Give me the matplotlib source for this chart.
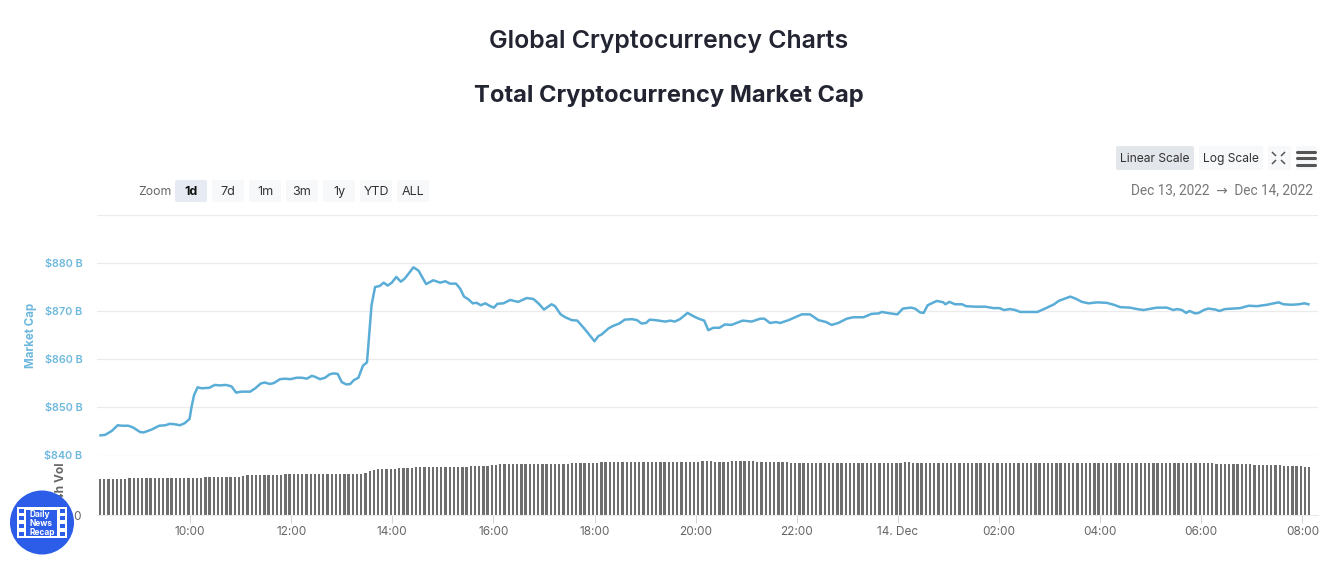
import matplotlib
matplotlib.use("Agg")
import matplotlib.pyplot as plt
from matplotlib.patches import FancyBboxPatch, Circle, Rectangle

plt.rcParams['font.family'] = ['Inter', 'DejaVu Sans']

# ---- data (hours since 13 Dec 00:00) ----
cap_hours = [
 8.23,8.32,8.45,8.57,8.65,8.78,8.88,9.01,9.08,9.24,9.39,9.51,9.60,9.70,9.80,9.89,9.99,10.03,10.08,10.15,
 10.23,10.38,10.49,10.59,10.71,10.82,10.91,11.02,11.19,11.29,11.40,11.48,11.58,11.66,11.78,11.88,11.98,12.11,12.21,12.31,
 12.41,12.47,12.57,12.67,12.76,12.84,12.92,13.00,13.09,13.17,13.24,13.33,13.42,13.50,13.55,13.59,13.66,13.75,13.83,13.91,
 13.99,14.08,14.17,14.25,14.42,14.52,14.67,14.81,14.95,15.05,15.14,15.26,15.34,15.42,15.51,15.59,15.67,15.75,15.84,15.94,
 16.01,16.08,16.20,16.33,16.49,16.66,16.79,16.89,17.00,17.15,17.22,17.33,17.42,17.55,17.66,17.81,18.00,18.08,18.14,18.28,
 18.37,18.49,18.60,18.74,18.84,18.93,19.02,19.09,19.20,19.40,19.50,19.59,19.69,19.84,19.96,20.06,20.17,20.25,20.35,20.47,
 20.58,20.71,20.81,20.93,21.11,21.28,21.36,21.47,21.59,21.67,21.84,21.97,22.10,22.26,22.43,22.58,22.69,22.82,22.99,23.12,
 23.32,23.48,23.62,23.68,23.85,23.99,24.10,24.26,24.34,24.44,24.51,24.59,24.67,24.77,24.90,24.94,25.02,25.13,25.27,25.35,
 25.53,25.73,25.89,26.01,26.10,26.22,26.32,26.42,26.58,26.76,26.91,27.09,27.18,27.28,27.41,27.51,27.64,27.77,27.95,28.13,
 28.27,28.40,28.59,28.73,28.86,29.12,29.32,29.45,29.52,29.62,29.70,29.77,29.88,29.95,30.05,30.14,30.28,30.36,30.47,30.61,
 30.77,30.94,31.10,31.30,31.53,31.63,31.79,31.93,32.04,32.12]
cap_values = [
 844.2,844.3,845.1,846.3,846.2,846.2,845.8,844.9,844.8,845.4,846.2,846.3,846.6,846.5,846.3,846.7,847.6,850.1,852.6,854.2,
 854.0,854.1,854.7,854.6,854.7,854.4,853.1,853.3,853.3,854.0,855.0,855.2,854.9,855.1,855.9,856.0,855.9,856.2,856.2,856.0,
 856.6,856.4,855.9,856.2,856.9,857.1,857.0,855.3,854.8,854.9,855.7,856.2,858.7,859.4,866.1,871.3,875.1,875.3,876.0,875.4,
 876.0,877.2,876.2,876.9,879.2,878.5,875.7,876.5,876.0,876.3,875.8,875.8,874.8,873.1,872.5,871.7,871.8,871.3,871.7,871.1,
 870.8,871.6,871.7,872.4,872.0,872.8,872.6,871.7,870.4,871.5,871.1,869.4,868.8,868.2,868.1,866.3,863.8,864.9,865.2,866.5,
 867.0,867.5,868.3,868.4,868.2,867.5,867.6,868.3,868.2,867.9,868.1,867.9,868.4,869.7,869.0,868.5,868.1,866.1,866.6,866.6,
 867.3,867.2,867.6,868.1,867.9,868.5,868.5,867.6,867.8,867.6,868.2,868.8,869.4,869.4,868.2,867.8,867.2,867.6,868.5,868.8,
 868.8,869.5,869.6,869.9,869.6,869.4,870.6,870.8,870.6,869.8,869.7,871.3,871.7,872.2,871.9,871.5,872.0,871.5,871.5,871.1,
 871.0,871.0,870.7,870.7,870.3,870.5,870.3,869.9,869.9,869.9,870.6,871.5,872.2,872.6,873.1,872.7,872.0,871.7,871.9,871.8,
 871.4,870.9,870.8,870.5,870.3,870.8,870.8,870.3,870.5,870.3,869.7,870.1,869.6,869.7,870.3,870.6,870.4,870.1,870.5,870.6,
 870.7,871.2,871.1,871.4,871.9,871.5,871.4,871.5,871.7,871.5]

# one row per hour, twelve 5-minute bars, first bar at about 08:13
vol_values = [
 36,36,36,36,36,36,36.5,37,37,37,37,37,
 37,37,37,37,37,37,37,37,37,37,37,37,
 37,38,38,38,38,38,38,38,38,38.5,39,40,
 40,40,40,40,40,40,40,40.5,41,41,41,41,
 41,41,41,41,41,41,41,41,41,41,41,41,
 41,41,41.5,42,44,45,46,46.5,46.5,46.5,46.5,47,
 47,47.5,47.5,48,48,48,48,48,48,48,48,48,
 48.5,48.5,48.5,48.5,49,49,49,49,49,50,50,51,
 51,51,51,51,51,51,51,51,51,51,51,51,
 51,51,51,51,52,52,52,52,52,52,52,53,
 53,53,53,53,53,53,53,53,53,53,53,53,
 53,53,53,53,53,53,53,53,53,53.5,53.5,54,
 54,54,53.5,53,53,53.5,54,54.5,54.5,54.5,54,54,
 53.5,53,53,53,53,53,53,53,52.5,52.5,52.5,52.5,
 52.5,52.5,52.5,52.5,52.5,52.5,52.5,52.5,52.5,52.5,52.5,52.5,
 52.5,52.5,52.5,52.5,52.5,52.5,52.5,52.5,52.5,52.5,52.5,53,
 53,52.5,52.5,52.5,52.5,52.5,52.5,52.5,52.5,52.5,52.5,52.5,
 52,52,52,52,52,52,52,52,52,52,52,52,
 52,52,52,52,52,52,52,52,52,52,52,52,
 52,52,52,52,52,52,52,52,52,52,52,52,
 52,52,52,52,52,52,52,52,52,52,52,52,
 52,52,52,52,52,52,52,52,52,52,52,52,
 52,51,51,51,51,51,51,51,51,51,50.5,50.5,
 50.5,50,50,50,50,49.5,49,49,49,49,48.5,48.5]
vol_start_hour = 8.22
vol_step_hours = 5 / 60

xtick_hours = [10,12,14,16,18,20,22,24,26,28,30,32]
xtick_labels = ['10:00','12:00','14:00','16:00','18:00','20:00','22:00','14. Dec','02:00','04:00','06:00','08:00']
ytick_values = [840,850,860,870,880,890]
ytick_labels = ['$840 B','$850 B','$860 B','$870 B','$880 B','']
zoom_buttons = ['1d','7d','1m','3m','1y','YTD','ALL']

W, H = 1342, 564
fig = plt.figure(figsize=(W/100, H/100), dpi=100, facecolor='white')
def box(l, t, r, b):
    return [l/W, (H-b)/H, (r-l)/W, (b-t)/H]

XMIN, XMAX = 8.16, 32.31
BLUE = '#5aadd6'
LABEL_BLUE = '#6db8de'
GRID = '#ebebeb'

# ---- price panel ----
ax = fig.add_axes(box(97, 214.5, 1318, 455.5))
ax.plot(cap_hours, cap_values, color=BLUE, lw=1.8, solid_joinstyle='round', zorder=3, clip_on=False)
ax.set_xlim(XMIN, XMAX); ax.set_ylim(840, 890.2)
ax.set_yticks(ytick_values, ytick_labels, color=LABEL_BLUE, fontsize=7.8, fontweight=600)
ax.tick_params(axis='y', length=0, pad=10.5)
ax.set_xticks([])
ax.grid(axis='y', color=GRID, lw=0.9)
ax.spines[:].set_visible(False)
ax.patch.set_alpha(0)

# ---- volume panel ----
vx = fig.add_axes(box(97, 455.5, 1318, 515))
vol_hours = [vol_start_hour + i * vol_step_hours for i in range(len(vol_values))]
vx.bar(vol_hours, vol_values, width=0.046, color='#6e6e6e', linewidth=0)
vx.set_xlim(XMIN, XMAX); vx.set_ylim(0, 59.5)
vx.set_yticks([0], ['0'], color='#666666', fontsize=8.5)
vx.tick_params(axis='y', length=0, pad=12)
vx.set_xticks(xtick_hours, xtick_labels, color='#666666', fontsize=8.5)
vx.tick_params(axis='x', length=5.8, width=0.7, color='#d5d5d5', pad=2)
for s in ['top', 'left', 'right']:
    vx.spines[s].set_visible(False)
vx.spines['bottom'].set_color(GRID)
vx.patch.set_alpha(0)

# ---- overlay in pixel coordinates: titles, buttons, logo ----
ov = fig.add_axes([0, 0, 1, 1], zorder=5)
ov.set_xlim(0, W); ov.set_ylim(H, 0); ov.axis('off'); ov.patch.set_alpha(0)
DARK = '#222531'
ov.text(668.5, 41.5, 'Global Cryptocurrency Charts', ha='center', va='center', fontsize=17.9, fontweight=600, color=DARK)
ov.text(668.5, 96, 'Total Cryptocurrency Market Cap', ha='center', va='center', fontsize=17.1, fontweight=700, color=DARK)

ov.text(31, 335, 'Market Cap', rotation=90, ha='center', va='center', fontsize=8.3, fontweight=700, color=LABEL_BLUE)
ov.text(60.5, 463, '24h Vol', rotation=90, ha='center', va='top', fontsize=8.6, fontweight=700, color='#666666')

def button(l, t, r, b, txt, fc, color='#333333', weight=400, size=9):
    ov.add_patch(FancyBboxPatch((l+2, t+2), r-l-4, b-t-4, boxstyle='round,pad=2,rounding_size=2', fc=fc, ec='none'))
    if txt:
        ov.text((l+r)/2, (t+b)/2 + 1, txt, ha='center', va='center', fontsize=size, color=color, fontweight=weight)

ov.text(155, 192, 'Zoom', ha='center', va='center', fontsize=8.8, color='#666666')
for i, lab in enumerate(zoom_buttons):
    l = 175 + i * 37
    active = i == 0
    button(l, 180, l + 32, 202, lab, '#e6eaf3' if active else '#f7f8fa',
           color='#111111' if active else '#333333', weight=700 if active else 400)

button(1116, 146, 1194, 170, 'Linear Scale', '#e3e6ea', size=8.7)
button(1199, 146, 1263, 170, 'Log Scale', '#f7f8fa', size=8.7)
button(1268, 146, 1291, 170, '', '#f7f8fa')
button(1296, 146, 1317, 170, '', '#f7f8fa')
for (x0, y0, dx, dy) in [(1272,152,1,1),(1285,152,-1,1),(1272,164,1,-1),(1285,164,-1,-1)]:
    ov.plot([x0, x0+4*dx], [y0, y0+4*dy], color='#555555', lw=1.1, solid_capstyle='butt')
for y in [152, 158, 164.5]:
    ov.plot([1297, 1315], [y, y], color='#555555', lw=2.2, solid_capstyle='round')

ov.text(1313, 190.5, 'Dec 13, 2022  \u2192  Dec 14, 2022', ha='right', va='center', fontsize=9.8, color='#777777', family=['Roboto', 'DejaVu Sans'])

# logo
LOGO = '#2b5de8'
ov.add_patch(Circle((42, 522.5), 32, fc=LOGO, ec='none', zorder=6))
ov.add_patch(Rectangle((17, 507), 50, 31, fc='white', ec='none', zorder=7))
ov.add_patch(Rectangle((26, 510), 31, 26, fc=LOGO, ec='none', zorder=8))
for y in [509, 516, 524, 532]:
    for x in [19, 60]:
        ov.add_patch(Rectangle((x, y), 5, 4, fc=LOGO, ec='none', zorder=8))
ov.text(30, 523.5, 'Daily\nNews\nRecap', ha='left', va='center', fontsize=6, fontweight=700, color='white', linespacing=1.0, zorder=9)

fig.savefig('out.png', dpi=100)
